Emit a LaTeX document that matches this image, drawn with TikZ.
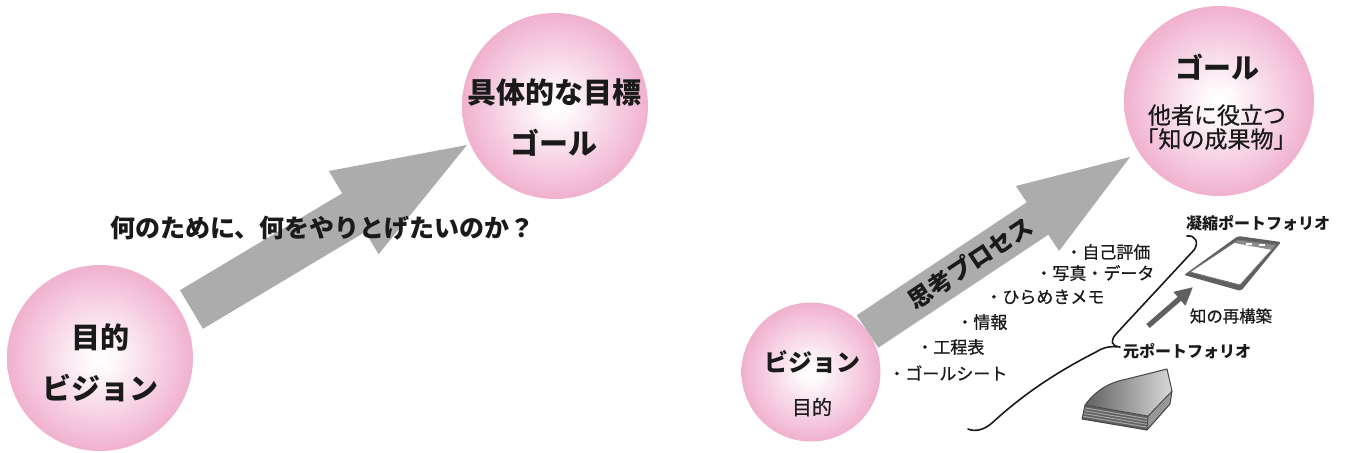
\documentclass[tikz,border=0pt]{standalone}
\usepackage{fontspec}
\newfontfamily\jp{Noto Sans CJK JP}
\newfontfamily\jpmed{Noto Sans CJK JP}[FakeBold=0.7]
\usetikzlibrary{calc,arrows.meta}

\definecolor{ballpink}{RGB}{239,170,202}
\definecolor{flowgray}{RGB}{172,172,172}
\definecolor{inkblack}{RGB}{26,26,26}
\definecolor{icondark}{RGB}{96,96,96}

% soft white glow in the middle of each pink ball
\pgfdeclareradialshading{pinkglow}{\pgfpoint{0bp}{0bp}}{%
  color(0bp)=(white); color(4bp)=(white!92!ballpink);
  color(27bp)=(ballpink); color(50bp)=(ballpink)}

\tikzset{
  pinkball/.style={circle, shading=pinkglow, draw=none, inner sep=0pt, minimum size=#1},
  txt/.style={inner sep=0pt, text=inkblack},
  bighead/.style={txt, font=\jp\bfseries\fontsize{14.5pt}{17pt}\selectfont},
  question/.style={txt, font=\jp\bfseries\fontsize{12.5pt}{15pt}\selectfont},
  goalhead/.style={txt, font=\jp\bfseries\fontsize{14pt}{16pt}\selectfont},
  goaltext/.style={txt, font=\jpmed\fontsize{11.5pt}{13pt}\selectfont},
  visionhead/.style={txt, font=\jp\bfseries\fontsize{12pt}{14pt}\selectfont},
  visionsub/.style={txt, font=\jpmed\fontsize{10pt}{12pt}\selectfont},
  processlabel/.style={txt, font=\jp\bfseries\fontsize{12pt}{14pt}\selectfont},
  item/.style={txt, anchor=west, font=\jpmed\fontsize{8.5pt}{10pt}\selectfont},
  smalllabel/.style={txt, font=\jp\bfseries\fontsize{8pt}{10pt}\selectfont},
  smalltext/.style={txt, font=\jpmed\fontsize{8.2pt}{10pt}\selectfont},
}

\begin{document}
\begin{tikzpicture}[x=0.5pt,y=-0.5pt]
\useasboundingbox[fill=white] (0,0) rectangle (1356,452);

% ---------- left: purpose -> concrete target ----------
\fill[flowgray] (180,290.2) -- (342.2,193.3) -- (328.8,171) -- (467,145)
  -- (378.6,254.2) -- (365.2,231.9) -- (203,328.8) -- cycle;

\node[pinkball=93pt] (vision) at (100,358) {};
\node[pinkball=93pt] (target) at (555,106) {};

\node[bighead] (visionA) at (100,337) {目的};
\node[bighead] (visionB) at (100,388) {ビジョン};
\node[bighead] (targetA) at (554,92) {具体的な目標};
\node[bighead] (targetB) at (554,143) {ゴール};
\node[question, anchor=west] (why) at (110,228) {何のために、何をやりとげたいのか？};

% ---------- right: thinking process -> goal ----------
\fill[flowgray] (856.7,315.3) -- (1026.7,202.3) -- (1015.9,186) -- (1130,157)
  -- (1059.1,251) -- (1048.3,234.7) -- (878.3,347.7) -- cycle;

\node[pinkball=69.5pt] (vision2) at (811,372) {};
\node[pinkball=95pt] (goal2) at (1219,101) {};

\node[visionhead] (v2a) at (812,362) {ビジョン};
\node[visionsub] (v2b) at (812,407) {目的};

\node[goalhead] (g2a) at (1217,67) {ゴール};
\node[goaltext] (g2b) at (1217,115) {他者に役立つ};
\node[goaltext] (g2c) at (1216,139) {「知の成果物」};

\node[processlabel, rotate=33.6] (process) at (970,263) {思考プロセス};

% collected material
\node[item] (i1) at (1065,252) {・自己評価};
\node[item] (i2) at (1035,273) {・写真・データ};
\node[item] (i3) at (985,297) {・ひらめきメモ};
\node[item] (i4) at (956,322) {・情報};
\node[item] (i5) at (916,347) {・工程表};
\node[item] (i6) at (888,373) {・ゴールシート};

% brace gathering the material into the portfolio
\draw[inkblack, line width=0.8pt, line cap=round, line join=round]
  (1187,236) .. controls (1196,235) and (1199,243) .. (1194,250)
  -- (1116,334)
  .. controls (1110,341) and (1111,346) .. (1120,347)
  .. controls (1110,346) and (1104,347) .. (1096,352)
  .. controls (1045,378) and (1015,402) .. (992,423)
  .. controls (984,430) and (975,432) .. (968,429);

% condensed portfolio (tablet)
\coordinate (tTL) at (1238,236);
\coordinate (tTR) at (1281,242);
\coordinate (tBR) at (1241,291);
\coordinate (tBL) at (1184,275);
\fill[icondark, rounded corners=1pt] (tTL) -- (tTR) -- (tBR) -- (tBL) -- cycle;
\coordinate (fA) at (1238,240);
\coordinate (fB) at (1276,245);
\coordinate (fC) at (1240,285);
\coordinate (fD) at (1190,272);
\fill[white] (fA) -- (fB) -- (fC) -- (fD) -- cycle;
\fill[black!45] (fA) -- (fB) -- ($(fB)!0.12!(fC)$) -- ($(fA)!0.09!(fD)$) -- cycle;
\fill[white] ($(fA)!0.2!(fB)+(0,1.5)$) rectangle ++(6,2);
\fill[white] ($(fA)!0.55!(fB)+(0,1.5)$) rectangle ++(6,2);
\draw[black!55, line width=0.4pt] (fA) -- (fB) -- (fC) -- (fD) -- cycle;

\node[smalllabel] (condensed) at (1258,223) {凝縮ポートフォリオ};

% rebuilding arrow
\coordinate (rs) at (1148,326);
\coordinate (re) at (1193,287);
\draw[icondark, line width=2.6pt, -{Triangle[length=9pt,width=8.5pt]}] (rs) -- (re);
\node[smalltext] (rebuild) at (1231,316) {知の再構築};

\node[smalllabel] (original) at (1187,351) {元ポートフォリオ};

% original portfolio (stack of paper): top, front and right faces
\coordinate (sL) at (1085,405);
\coordinate (sB) at (1127,379);
\coordinate (sK) at (1167,369);
\coordinate (sR) at (1172,391);
\coordinate (sF) at (1148,416);
\coordinate (sLb) at (1082,419);
\coordinate (sFb) at (1147,430);
\coordinate (sRb) at (1170,404);
\fill[black!62] (sL) -- (sF) -- (sFb) -- (sLb) -- cycle;
\fill[black!55] (sF) -- (sR) -- (sRb) -- (sFb) -- cycle;
\foreach \t in {0.2,0.4,0.6,0.8}{
  \draw[black!35, line width=0.5pt] ($(sL)!\t!(sLb)$) -- ($(sF)!\t!(sFb)$);
  \draw[black!35, line width=0.5pt] ($(sF)!\t!(sFb)$) -- ($(sR)!\t!(sRb)$);
}
\shade[left color=black!62, right color=black!15]
  (sL) .. controls (1096,390) and (1110,382) .. (sB)
  -- (sK) -- (sR) -- (sF) -- cycle;
\draw[black!72, line width=0.5pt, line join=round]
  (sL) .. controls (1096,390) and (1110,382) .. (sB)
  -- (sK) -- (sR) -- (sRb) -- (sFb) -- (sLb) -- cycle;
\draw[black!72, line width=0.4pt] (sL) -- (sF) -- (sR) (sF) -- (sFb);

\end{tikzpicture}
\end{document}
